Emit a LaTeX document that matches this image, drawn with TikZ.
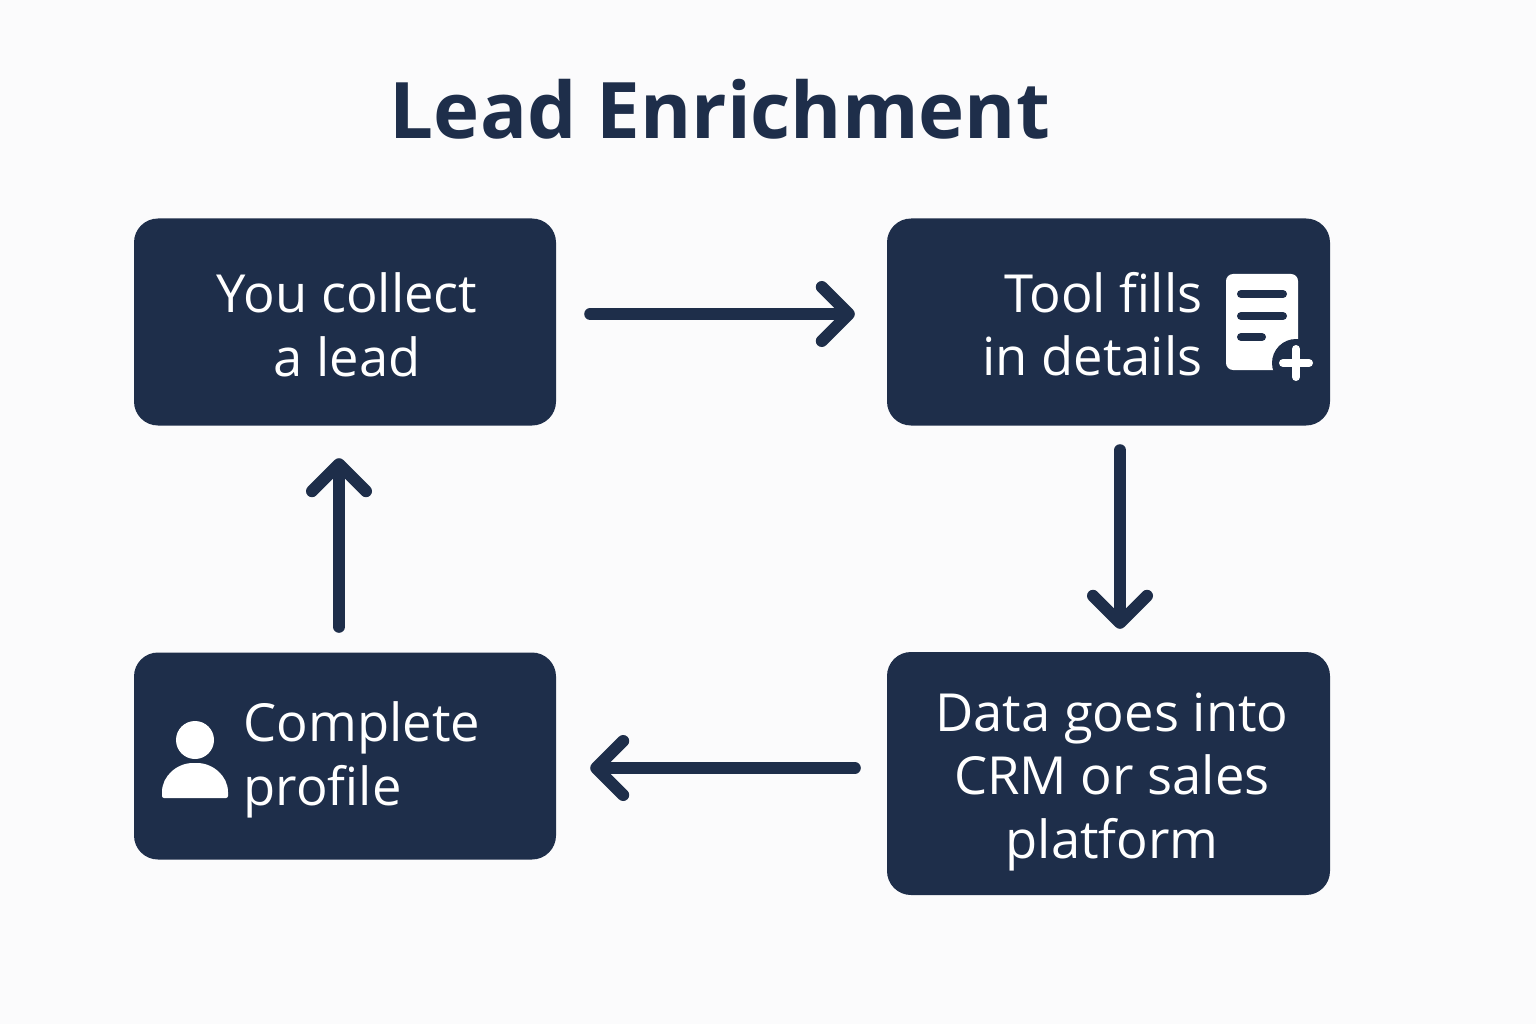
\documentclass[tikz,border=0pt]{standalone}
\usepackage{fontspec}
\setmainfont{Open Sans}
\usepackage{xcolor}
\usetikzlibrary{positioning,calc,arrows.meta}
\definecolor{navy}{HTML}{1E2E4A}
\definecolor{paper}{HTML}{FBFBFC}
\tikzset{
    box/.style={fill=navy, rounded corners=24pt, inner sep=0pt},
    shortbox/.style={box, minimum height=207pt},
    boxtext/.style={text=white, font=\fontsize{52.5}{63.5}\selectfont},
    flow/.style={line width=12pt, navy, line cap=round, line join=round, -{Straight Barb[length=27pt,width=54pt,round]}},
}
\begin{document}
\begin{tikzpicture}[x=1pt,y=-1pt]
    \useasboundingbox[fill=paper] (0,0) rectangle (1536,1024);
    \node [text=navy, font=\fontsize{78}{90}\selectfont\bfseries] (title) at (720,109) {Lead Enrichment};

    % Boxes
    \node [shortbox, minimum width=422pt] (collect) at (345,322) {};
    \node [shortbox, minimum width=443pt] (tool) at (1108.5,322) {};
    \node [box, minimum width=443pt, minimum height=243pt] (data) at (1108.5,773.5) {};
    \node [shortbox, minimum width=422pt] (profile) at (345,756) {};

    % Box labels
    \node [boxtext, align=center] (collectlabel) at (347,325) {You collect\\a lead};
    \node [boxtext, align=right, anchor=east] (toollabel) at (1206,324) {Tool fills\\in details};
    \node [boxtext, align=center] (datalabel) at (1112,782) {Data goes into\\CRM or sales\\platform};
    \node [boxtext, align=left, anchor=west] (profilelabel) at (240,760) {Complete\\profile};

    % Arrows
    \draw [flow, shorten <=34pt, shorten >=32pt] ([yshift=8pt]collect.east) -- ([yshift=8pt]tool.west);
    \draw [flow, shorten <=24.5pt, shorten >=23pt] ([xshift=11.5pt]tool.south) -- ([xshift=11.5pt]data.north);
    \draw [flow, shorten <=32pt, shorten >=34pt] ([yshift=5.5pt]data.west) -- ([yshift=-12pt]profile.east);
    \draw [flow, shorten <=25.5pt, shorten >=32.5pt] ([xshift=-6pt]profile.north) -- ([xshift=-6pt]collect.south);

    % Document icon
    \fill [white, rounded corners=7pt] (1226,274) rectangle (1298,370);
    \draw [navy, line width=8pt, line cap=round] (1241,294) -- (1283,294) (1241,316) -- (1283,316) (1241,337) -- (1262,337);
    \fill [navy] (1296,363) circle (24pt);
    \draw [white, line width=8pt, line cap=round] (1296,349) -- (1296,377) (1283,363) -- (1309,363);

    % Person icon
    \fill [white] (195,740) circle (19pt);
    \fill [white, rounded corners=2pt] (162,798) -- (162,794) .. controls (162,776) and (177,763) .. (195,763) .. controls (213,763) and (228,776) .. (228,794) -- (228,798) -- cycle;
\end{tikzpicture}
\end{document}
